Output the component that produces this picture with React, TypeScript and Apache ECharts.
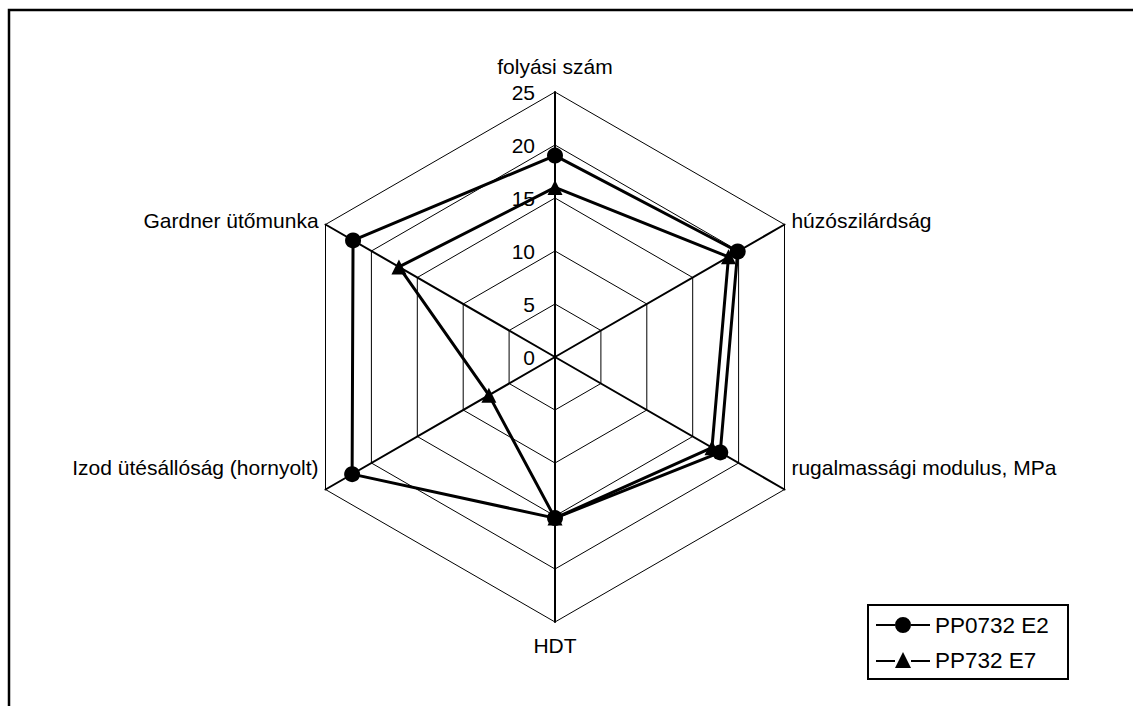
import React, { useEffect, useRef } from "react";
import * as echarts from "echarts";

// Categories in the reference's clockwise order, starting at the top
const categories = [
  "folyási szám",
  "húzószilárdság",
  "rugalmassági modulus, MPa",
  "HDT",
  "Izod ütésállóság (hornyolt)",
  "Gardner ütőmunka",
];
const seriesNames = ["PP0732 E2", "PP732 E7"];
const valuesE2 = [19.0, 19.9, 18.0, 15.2, 22.1, 22.0];
const valuesE7 = [16.0, 18.9, 17.1, 15.2, 7.2, 17.0];
const axisMax = 25;

// ECharts lays radar indicators counter-clockwise; reorder to get clockwise
const ccw = (arr: any[]) => [arr[0], ...arr.slice(1).reverse()];

const FONT = "'Liberation Sans', Arial, sans-serif";
const raised = new Set(["rugalmassági modulus, MPa", "Izod ütésállóság (hornyolt)"]);

const circleIcon =
  "path://M0,7 L19,7 L19,9 L0,9 Z M35,7 L54,7 L54,9 L35,9 Z M19,8 A8,8 0 1,0 35,8 A8,8 0 1,0 19,8 Z";
const triIcon =
  "path://M0,8 L19,8 L19,10 L0,10 Z M35,8 L54,8 L54,10 L35,10 Z M27,0 L35,16 L19,16 Z";

export default function App() {
  const ref = useRef<HTMLDivElement>(null);
  useEffect(() => {
    if (!ref.current) return;
    const chart = echarts.init(ref.current, undefined, { renderer: "svg" });
    const indicator = ccw(categories).map((name, i) => {
      const ind: any = { name, max: axisMax, min: 0 };
      if (i !== 0) ind.axisLabel = { show: false };
      return ind;
    });
    chart.setOption({
      animation: false,
      backgroundColor: "#fff",
      textStyle: { fontFamily: FONT, color: "#000" },
      graphic: [
        {
          type: "rect",
          shape: { x: 9, y: 10, width: 1300, height: 900 },
          style: { fill: "none", stroke: "#000", lineWidth: 2.5 },
          silent: true,
        },
        {
          type: "rect",
          shape: { x: 868, y: 605, width: 200, height: 74 },
          style: { fill: "#fff", stroke: "#000", lineWidth: 2 },
          silent: true,
          z: -1,
        },
      ],
      legend: {
        orient: "vertical",
        left: 876,
        top: 613,
        itemWidth: 54,
        itemHeight: 16,
        itemGap: 11,
        padding: 0,
        data: [
          { name: seriesNames[0], icon: circleIcon },
          { name: seriesNames[1], icon: triIcon },
        ],
        itemStyle: { color: "#000", borderWidth: 0 },
        textStyle: { fontSize: 22.5, color: "#000", fontFamily: FONT, lineHeight: 24 },
      },
      radar: {
        center: [555, 357],
        radius: 265,
        startAngle: 90,
        shape: "polygon",
        splitNumber: 5,
        indicator,
        nameGap: 8,
        axisName: {
          color: "#000",
          fontSize: 21,
          fontFamily: FONT,
          formatter: (value: string) => {
            if (raised.has(value)) return `{up|${value}}`;
            if (value === categories[0]) return `{top|${value}}`;
            if (value === categories[3]) return `{bot|${value}}`;
            return value;
          },
          rich: {
            up: { fontSize: 21, fontFamily: FONT, color: "#000", padding: [0, 0, 52, 0] },
            top: { fontSize: 21, fontFamily: FONT, color: "#000", padding: [0, 0, 7, 0] },
            bot: { fontSize: 21, fontFamily: FONT, color: "#000", padding: [5, 0, 0, 0] },
          },
        },
        axisLine: { show: true, lineStyle: { color: "#000", width: 2 } },
        splitLine: { show: true, lineStyle: { color: "#000", width: 1 } },
        splitArea: { show: false },
        axisTick: { show: false },
        axisLabel: { show: true, color: "#000", fontSize: 21, fontFamily: FONT, margin: 20 },
      },
      series: [
        {
          type: "radar",
          data: [
            {
              name: seriesNames[0],
              value: ccw(valuesE2),
              symbol: "circle",
              symbolSize: 16,
              itemStyle: { color: "#000" },
              lineStyle: { color: "#000", width: 3 },
            },
            {
              name: seriesNames[1],
              value: ccw(valuesE7),
              symbol: "triangle",
              symbolSize: 15,
              itemStyle: { color: "#000" },
              lineStyle: { color: "#000", width: 3 },
            },
          ],
        },
      ],
    });
    return () => chart.dispose();
  }, []);
  return (
    <div
      ref={ref}
      style={{ position: "absolute", left: 0, top: 0, width: 1133, height: 706, background: "#fff" }}
    />
  );
}
